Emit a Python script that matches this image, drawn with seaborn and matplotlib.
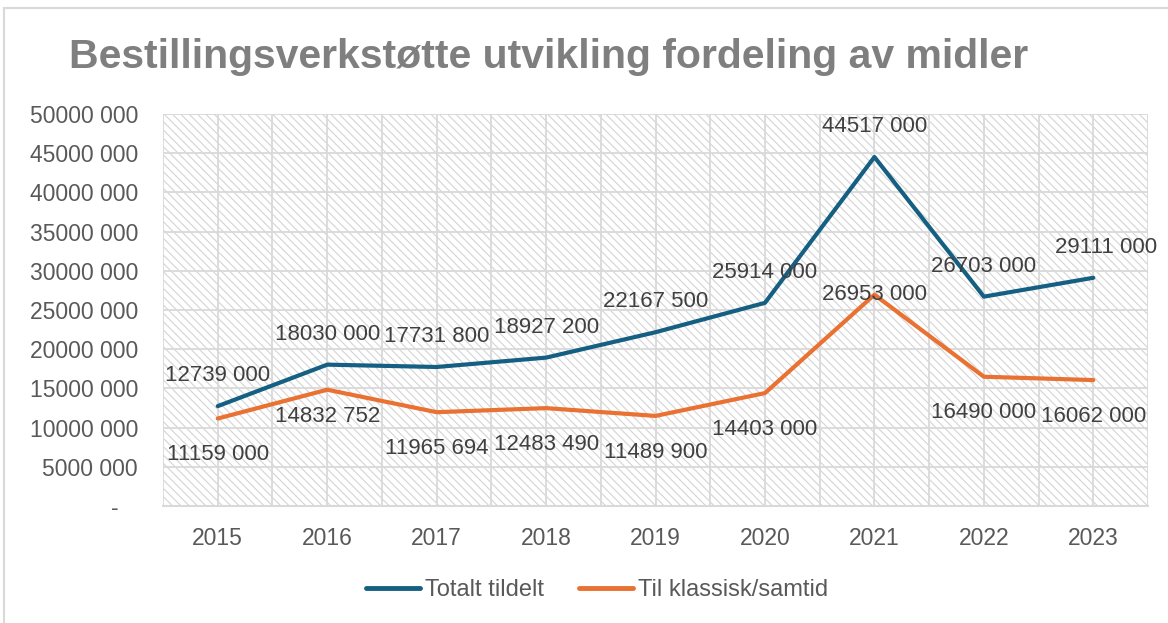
import pandas as pd
import seaborn as sns
import matplotlib.pyplot as plt
from matplotlib.patches import Rectangle

# Data
years = ['2015', '2016', '2017', '2018', '2019', '2020', '2021', '2022', '2023']
totalt = [12739000, 18030000, 17731800, 18927200, 22167500, 25914000, 44517000, 26703000, 29111000]
klassisk = [11159000, 14832752, 11965694, 12483490, 11489900, 14403000, 26953000, 16490000, 16062000]
series_names = ['Totalt tildelt', 'Til klassisk/samtid']

df = pd.DataFrame({
    'År': years * 2,
    'Beløp': totalt + klassisk,
    'Serie': [series_names[0]] * len(years) + [series_names[1]] * len(years),
})

def fmt(v):
    v = int(round(v))
    if v == 0:
        return '-   '
    return f"{v // 1000} {v % 1000:03d}"

sns.set_theme(style="white")
plt.rcParams['font.family'] = ['Liberation Sans', 'DejaVu Sans']
plt.rcParams['hatch.linewidth'] = 0.8

colors = {series_names[0]: '#156082', series_names[1]: '#E97132'}
textcol = '#595959'
gridcol = '#d9d9d9'

fig = plt.figure(figsize=(11.68, 6.23), dpi=100)
ax = fig.add_axes([0.1396, 0.1878, 0.8433, 0.6292])

# hatched plot background
ax.add_patch(Rectangle((0, 0), 1, 1, transform=ax.transAxes, facecolor='white',
                       edgecolor='#d4d4d4', linewidth=0, hatch='\\\\\\\\', zorder=0))

sns.lineplot(data=df, x='År', y='Beløp', hue='Serie', palette=colors,
             linewidth=3.0, errorbar=None, ax=ax, legend=False, zorder=3)

ax.set_xlim(-0.5, 8.5)
ax.set_ylim(0, 50000000)
ax.set_xticks(range(len(years)))
ax.set_xticklabels(years)
ax.set_xticks([i - 0.5 for i in range(len(years) + 1)], minor=True)
yt = list(range(0, 50000001, 5000000))
ax.set_yticks(yt)
ax.set_yticklabels([fmt(v) for v in yt])

ax.grid(which='both', axis='x', color=gridcol, linewidth=1.3, zorder=1)
ax.grid(which='major', axis='y', color=gridcol, linewidth=1.3, zorder=1)
ax.set_axisbelow(True)
for s in ['top', 'right', 'left']:
    ax.spines[s].set_visible(False)
ax.spines['bottom'].set_color(gridcol)
ax.spines['bottom'].set_linewidth(1.5)

ax.tick_params(axis='both', which='both', length=0, labelsize=16.5, colors=textcol)
ax.tick_params(axis='x', pad=15)
ax.tick_params(axis='y', pad=18)
ax.set_xlabel('')
ax.set_ylabel('')

# data labels
above_off = 22
below_off = -26
overrides = {(1, 6): 0, (1, 1): -19}
shift_x = {(0, 8): 9}
for si, vals in enumerate([totalt, klassisk]):
    for i, v in enumerate(vals):
        dy = above_off if si == 0 else below_off
        dy = overrides.get((si, i), dy)
        dx = shift_x.get((si, i), 0)
        ax.annotate(fmt(v), (i, v), xytext=(dx, dy), textcoords='offset points',
                    ha='center', va='center', fontsize=16, color='#404040', zorder=4)

# title
fig.text(0.47, 0.908, 'Bestillingsverkstøtte utvikling fordeling av midler',
         ha='center', va='center', fontsize=29.5, fontweight='bold', color='#7f7f7f')

# legend
handles = [plt.Line2D([], [], color=colors[n], linewidth=3.5, solid_capstyle='round')
           for n in series_names]
fig.legend(handles, series_names, loc='center', bbox_to_anchor=(0.511, 0.053), ncol=2,
           frameon=False, fontsize=17, labelcolor=textcol, handlelength=2.3,
           handletextpad=0.2, columnspacing=1.5)

# chart border
fig.add_artist(Rectangle((0.003, -0.01), 1.5, 0.997, transform=fig.transFigure,
                         fill=False, edgecolor='#d9d9d9', linewidth=1.5))

fig.savefig('out.png', dpi=100)
